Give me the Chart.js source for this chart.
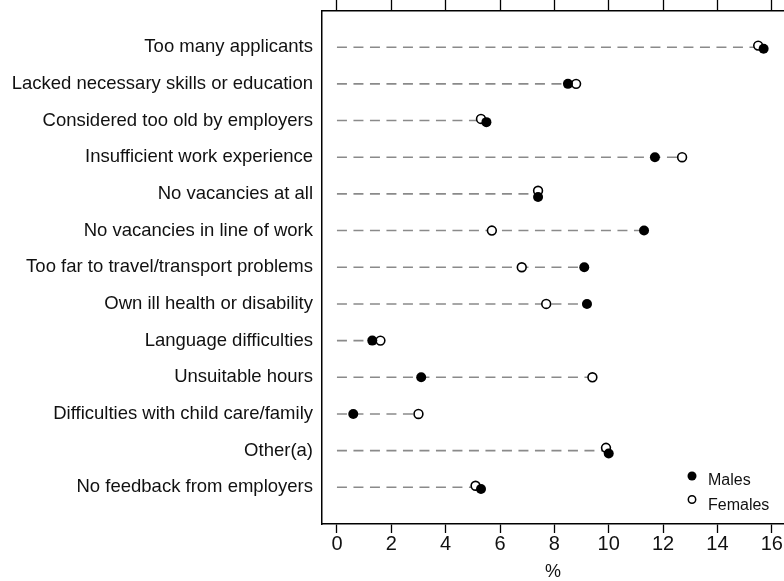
<!DOCTYPE html>
<html lang="en-US">
<head>
  <meta charset="utf-8">
  <title>Reasons for difficulty finding work</title>
  <script src="https://cdn.jsdelivr.net/npm/chart.js@4.4.1/dist/chart.umd.min.js"></script>
  <style>
  html, body { margin: 0; padding: 0; background: #fff; }
  canvas { display: block; }
  </style>
</head>
<body>
<canvas id="chart" width="784" height="581"></canvas>
<script>
// categories, top to bottom
var categories = [
  'Too many applicants',
  'Lacked necessary skills or education',
  'Considered too old by employers',
  'Insufficient work experience',
  'No vacancies at all',
  'No vacancies in line of work',
  'Too far to travel/transport problems',
  'Own ill health or disability',
  'Language difficulties',
  'Unsuitable hours',
  'Difficulties with child care/family',
  'Other(a)',
  'No feedback from employers'
];
var males   = [15.7, 8.5, 5.5, 11.7, 7.4, 11.3, 9.1, 9.2, 1.3, 3.1, 0.6, 10.0, 5.3];
var females = [15.5, 8.8, 5.3, 12.7, 7.4, 5.7, 6.8, 7.7, 1.6, 9.4, 3.0, 9.9, 5.1];
var xTicks = [0, 2, 4, 6, 8, 10, 12, 14, 16];
var seriesNames = ['Males', 'Females'];

Chart.defaults.font.family = '"Liberation Sans", Arial, sans-serif';
Chart.defaults.color = '#111';

// nudge overlapping markers apart vertically (females up, males down)
function nudge(i) {
  var dxPx = Math.abs(males[i] - females[i]) * 27.15;
  var d = 6.3;
  if (dxPx >= d) return 0;
  return Math.sqrt(d * d - dxPx * dxPx) / 2 / 36.7;
}

var datasets = [];
categories.forEach(function(cat, i) {
  datasets.push({
    label: 'line' + i,
    showLine: true,
    data: [{x: 0, y: i + 1}, {x: Math.max(males[i], females[i]), y: i + 1}],
    borderColor: '#8a8a8a',
    borderWidth: 1.6,
    borderDash: [10, 6.5],
    pointRadius: 0,
    order: 3
  });
});
datasets.push({
  label: seriesNames[1],
  data: females.map(function(v, i) { return {x: v, y: i + 1 - nudge(i)}; }),
  pointRadius: 4.4,
  pointBackgroundColor: '#fff',
  pointBorderColor: '#000',
  pointBorderWidth: 1.6,
  order: 1
});
datasets.push({
  label: seriesNames[0],
  data: males.map(function(v, i) { return {x: v, y: i + 1 + nudge(i)}; }),
  pointRadius: 5,
  pointBackgroundColor: '#000',
  pointBorderColor: '#000',
  pointBorderWidth: 0,
  order: 0
});

var legendInside = {
  id: 'legendInside',
  afterDraw: function(chart) {
    var ctx = chart.ctx;
    var a = chart.chartArea;
    var x = a.right - 92, y = a.bottom - 48;
    ctx.save();
    ctx.fillStyle = '#000';
    ctx.beginPath();
    ctx.arc(x, y, 4.5, 0, Math.PI * 2);
    ctx.fill();
    ctx.beginPath();
    ctx.arc(x, y + 23.5, 3.7, 0, Math.PI * 2);
    ctx.fillStyle = '#fff';
    ctx.fill();
    ctx.lineWidth = 1.5;
    ctx.strokeStyle = '#000';
    ctx.stroke();
    ctx.fillStyle = '#111';
    ctx.font = '16px "Liberation Sans", Arial, sans-serif';
    ctx.textBaseline = 'alphabetic';
    ctx.fillText(seriesNames[0], x + 16, y + 9);
    ctx.fillText(seriesNames[1], x + 16, y + 34);
    ctx.restore();
  }
};

function setTicks(scale) {
  scale.ticks = xTicks.map(function(v) { return {value: v}; });
}

// fixed axis sizes, no extra label padding around the plot box
function fixSize(w, h) {
  return function(s) {
    if (w !== null) s.width = w;
    if (h !== null) s.height = h;
    s.paddingLeft = s.paddingRight = s.paddingTop = s.paddingBottom = 0;
  };
}

new Chart(document.getElementById('chart').getContext('2d'), {
  type: 'scatter',
  data: { datasets: datasets },
  plugins: [legendInside],
  options: {
    responsive: false,
    animation: false,
    layout: { padding: 0, autoPadding: false },
    plugins: {
      legend: { display: false },
      tooltip: { enabled: false }
    },
    scales: {
      x: {
        type: 'linear',
        position: 'bottom',
        min: -0.55,
        max: 16.45,
        afterBuildTicks: setTicks,
        afterFit: fixSize(null, 57),
        grid: { display: true, drawOnChartArea: false, drawTicks: true, tickLength: 9, tickColor: '#000', tickWidth: 1.3 },
        border: { display: true, color: '#000', width: 1.5 },
        ticks: { font: { size: 20, lineHeight: 1.1 }, padding: 0, color: '#111', maxRotation: 0 },
        title: { display: true, text: '%', font: { size: 18, lineHeight: 1.0 }, padding: 0, color: '#111' }
      },
      x2: {
        type: 'linear',
        position: 'top',
        min: -0.55,
        max: 16.45,
        afterBuildTicks: setTicks,
        afterFit: fixSize(null, 10.5),
        grid: { display: true, drawOnChartArea: false, drawTicks: true, tickLength: 10.5, tickColor: '#000', tickWidth: 1.3 },
        border: { display: true, color: '#000', width: 1.5 },
        ticks: { display: false }
      },
      y: {
        type: 'linear',
        reverse: true,
        min: 0,
        max: 14,
        afterBuildTicks: function(s) {
          s.ticks = categories.map(function(c, i) { return {value: i + 1}; });
        },
        afterFit: fixSize(322, null),
        grid: { display: true, drawOnChartArea: false, drawTicks: false },
        border: { display: true, color: '#000', width: 1.5 },
        ticks: {
          font: { size: 18.5 },
          padding: 9,
          color: '#111',
          callback: function(v) { return categories[v - 1]; }
        }
      }
    }
  }
});
</script>
</body>
</html>
